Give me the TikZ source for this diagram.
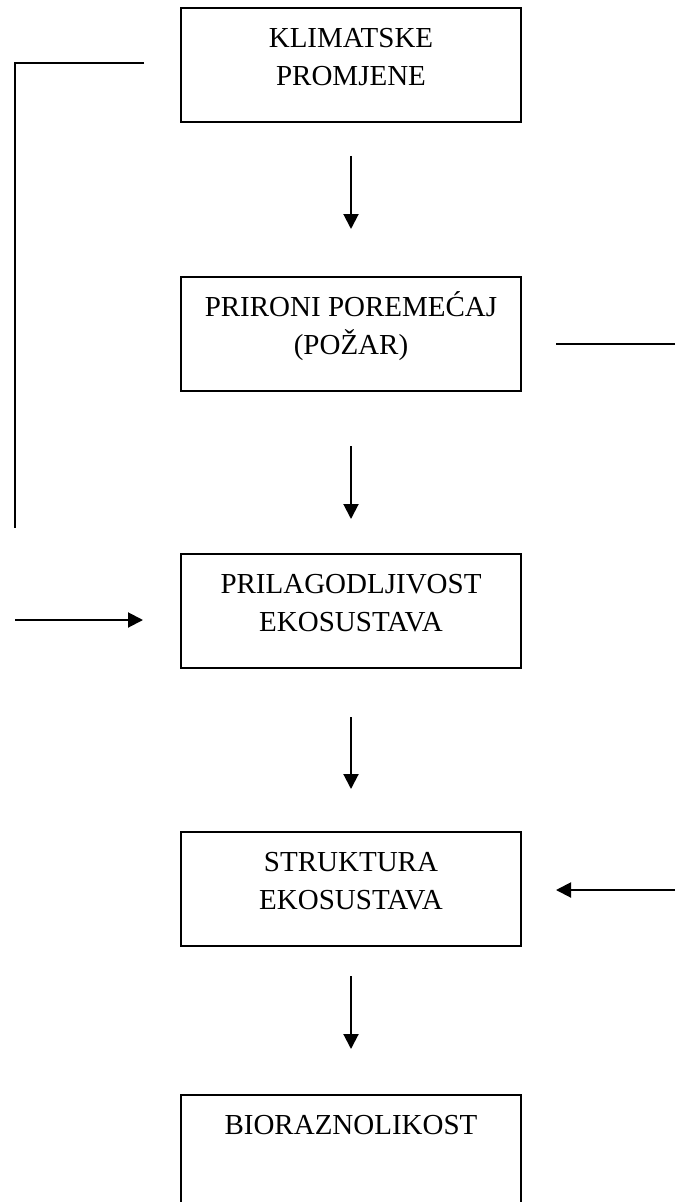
\documentclass[tikz,border=0pt]{standalone}
\usepackage{fontspec}
\setmainfont{Liberation Serif}
\usetikzlibrary{arrows.meta}

\newcommand{\okvir}[1]{\parbox[c][85.5pt][t]{255pt}{\centering\rule{0pt}{29.5pt}#1}}

\begin{document}
\begin{tikzpicture}[x=0.75pt, y=-0.75pt, line width=1.5pt,
  kutija/.style={draw, rectangle, inner sep=0pt, font=\fontsize{21.75}{28.5}\selectfont},
  strelica/.style={-{Triangle[width=11.25pt,length=11.25pt]}}]
 \useasboundingbox (0,0) rectangle (675,1202);
 \node [kutija] (klima) at (351,65) {\okvir{KLIMATSKE\\PROMJENE}};
 \node [kutija] (poremecaj) at (351,334) {\okvir{PRIRONI POREMEĆAJ\\(POŽAR)}};
 \node [kutija] (prilagod) at (351,611) {\okvir{PRILAGODLJIVOST\\EKOSUSTAVA}};
 \node [kutija] (struktura) at (351,889) {\okvir{STRUKTURA\\EKOSUSTAVA}};
 \node [kutija] (bioraz) at (351,1152) {\okvir{BIORAZNOLIKOST}};
 \coordinate (lkut) at (15,63);
 \coordinate (ldno) at (15,528);
 \coordinate (lulaz) at (15,620);
 \coordinate (dporem) at (675,344);
 \coordinate (dstrukt) at (675,890);
 % glavni tok
 \draw [strelica, shorten <=24.75pt, shorten >=35.25pt] (klima) -- (poremecaj);
 \draw [strelica, shorten <=40.5pt, shorten >=25.5pt] (poremecaj) -- (prilagod);
 \draw [strelica, shorten <=36pt, shorten >=31.5pt] (prilagod) -- (struktura);
 \draw [strelica, shorten <=21.75pt, shorten >=33.75pt] (struktura) -- (bioraz);
 % bocne veze
 \draw [shorten <=27pt] (klima.west |- lkut) -- (lkut) -- (ldno);
 \draw [strelica, shorten >=27.75pt] (lulaz) -- (lulaz -| prilagod.west);
 \draw [shorten >=25.5pt] (dporem) -- (dporem -| poremecaj.east);
 \draw [strelica, shorten >=25.5pt] (dstrukt) -- (dstrukt -| struktura.east);
\end{tikzpicture}
\end{document}
